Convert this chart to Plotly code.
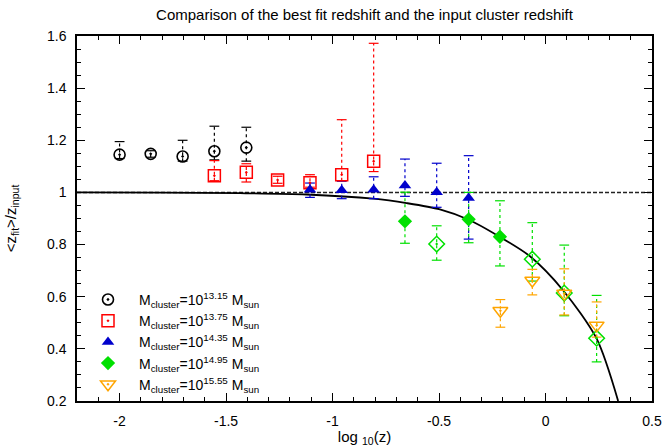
import plotly.graph_objects as go

# ---------------- data ----------------
# M = 10^13.15 (black circles)
s1_x = [-2.0, -1.854, -1.704, -1.555, -1.405]
s1_y = [1.145, 1.148, 1.138, 1.158, 1.172]
s1_hi = [1.195, 1.160, 1.200, 1.254, 1.250]
s1_lo = [1.130, 1.135, 1.120, 1.125, 1.120]

# M = 10^13.75 (red squares)
s2_x = [-1.555, -1.405, -1.258, -1.106, -0.957, -0.807]
s2_y = [1.064, 1.077, 1.048, 1.037, 1.068, 1.120]
s2_hi = [1.122, 1.110, 1.062, 1.068, 1.279, 1.572]
s2_lo = [1.045, 1.040, 1.035, 1.020, 1.045, 1.080]

# M = 10^14.35 (blue triangles)
s3_x = [-1.106, -0.957, -0.807, -0.660, -0.511, -0.361]
s3_y = [1.010, 1.008, 1.010, 1.027, 1.001, 0.979]
s3_hi = [1.036, 1.043, 1.060, 1.128, 1.112, 1.141]
s3_lo = [0.981, 0.976, 0.976, 0.985, 0.943, 0.821]

# M = 10^14.95 (green diamonds, filled)
s4_x = [-0.660, -0.361, -0.214]
s4_y = [0.889, 0.897, 0.830]
s4_hi = [1.001, 1.000, 0.968]
s4_lo = [0.805, 0.807, 0.718]

# M = 10^14.95 (green diamonds, open)
s4b_x = [-0.511, -0.062, 0.088, 0.240]
s4b_y = [0.802, 0.744, 0.614, 0.441]
s4b_hi = [0.872, 0.884, 0.798, 0.605]
s4b_lo = [0.740, 0.660, 0.527, 0.350]

# M = 10^15.55 (orange down triangles)
s5_x = [-0.212, -0.062, 0.088, 0.240]
s5_y = [0.546, 0.662, 0.612, 0.490]
s5_hi = [0.589, 0.705, 0.707, 0.580]
s5_lo = [0.483, 0.607, 0.530, 0.445]

# model curve
curve_x = [-2.2, -1.8, -1.435, -1.122, -0.809, -0.652, -0.496, -0.360, -0.214, -0.073, 0.083, 0.240, 0.341]
curve_y = [1.000, 0.999, 0.997, 0.992, 0.976, 0.959, 0.935, 0.895, 0.829, 0.755, 0.624, 0.439, 0.200]

REF_LEVEL = 1.0

x_ticks = [-2, -1.5, -1, -0.5, 0, 0.5]
x_ticktext = ["-2", "-1.5", "-1", "-0.5", "0", "0.5"]
y_ticks = [0.2, 0.4, 0.6, 0.8, 1.0, 1.2, 1.4, 1.6]
y_ticktext = ["0.2", "0.4", "0.6", "0.8", "1", "1.2", "1.4", "1.6"]

names = ["13.15", "13.75", "14.35", "14.95", "15.55"]

FONT = "Liberation Sans, Arial, sans-serif"

fig = go.Figure()


def add_errbars(xs, lo, hi, color):
    ex, ey = [], []
    for x, a, b in zip(xs, lo, hi):
        ex += [x, x, None]
        ey += [a, b, None]
    fig.add_trace(go.Scatter(x=ex, y=ey, mode="lines", showlegend=False,
                             hoverinfo="skip",
                             line=dict(color=color, width=1.2, dash="dot")))
    fig.add_trace(go.Scatter(x=list(xs) + list(xs), y=list(lo) + list(hi),
                             mode="markers", showlegend=False, hoverinfo="skip",
                             marker=dict(symbol="line-ew", size=7,
                                         line=dict(color=color, width=1.2))))


BLACK = "#000000"
RED = "#ff0000"
BLUE = "#0000cc"
GREEN = "#00e000"
ORANGE = "#ffa500"

# reference line and curve
fig.add_hline(y=REF_LEVEL, line=dict(color="#222222", width=1.5, dash="4px,2px"), layer="below")
fig.add_trace(go.Scatter(x=curve_x, y=curve_y, mode="lines", showlegend=False,
                         line=dict(color="black", width=1.8, shape="spline", smoothing=0.8)))

for xs, lo, hi, c in [(s1_x, s1_lo, s1_hi, BLACK), (s2_x, s2_lo, s2_hi, RED),
                      (s3_x, s3_lo, s3_hi, BLUE), (s4_x, s4_lo, s4_hi, GREEN),
                      (s4b_x, s4b_lo, s4b_hi, GREEN), (s5_x, s5_lo, s5_hi, ORANGE)]:
    add_errbars(xs, lo, hi, c)


def label(n):
    return "M<sub>cluster</sub>=10<sup>%s</sup> M<sub>sun</sub>" % n


fig.add_trace(go.Scatter(x=s1_x, y=s1_y, mode="markers", name=label(names[0]),
                         marker=dict(symbol="circle-open-dot", size=11, color=BLACK,
                                     line=dict(width=1.6, color=BLACK))))
fig.add_trace(go.Scatter(x=s2_x, y=s2_y, mode="markers", name=label(names[1]),
                         marker=dict(symbol="square-open-dot", size=12, color=RED,
                                     line=dict(width=1.5, color=RED))))
fig.add_trace(go.Scatter(x=s3_x, y=s3_y, mode="markers", name=label(names[2]),
                         marker=dict(symbol="triangle-up", size=11, color=BLUE,
                                     line=dict(width=0))))
fig.add_trace(go.Scatter(x=s4_x, y=s4_y, mode="markers", name=label(names[3]),
                         marker=dict(symbol="diamond", size=11, color=GREEN,
                                     line=dict(width=0))))
fig.add_trace(go.Scatter(x=s4b_x, y=s4b_y, mode="markers", showlegend=False,
                         marker=dict(symbol="diamond-open-dot", size=12, color=GREEN,
                                     line=dict(width=1.5, color=GREEN))))
fig.add_trace(go.Scatter(x=s5_x, y=s5_y, mode="markers", name=label(names[4]),
                         marker=dict(symbol="triangle-down-open-dot", size=13, color=ORANGE,
                                     line=dict(width=1.5, color=ORANGE))))

axis_common = dict(showgrid=False, zeroline=False, showline=True, linecolor="black",
                   linewidth=1.5, mirror="allticks", ticks="inside", ticklen=8,
                   tickwidth=1, tickcolor="black", automargin=False,
                   tickfont=dict(family=FONT, size=14, color="black"))

fig.update_layout(
    width=662, height=447,
    margin=dict(l=77, r=10, t=36, b=46),
    paper_bgcolor="white", plot_bgcolor="white",
    title=dict(text="Comparison of the best fit redshift and the input cluster redshift",
               x=0.5, xanchor="center", y=0.968, yanchor="middle",
               xref="paper",
               font=dict(family=FONT, size=15, color="black")),
    xaxis=dict(range=[-2.2, 0.5], tickvals=x_ticks, ticktext=x_ticktext,
               ticklabelstandoff=6,
               title=dict(text="log <sub>10</sub>(z)", standoff=4,
                          font=dict(family=FONT, size=15, color="black")),
               minor=dict(dtick=0.1, ticks="inside", ticklen=4, tickcolor="black"),
               **axis_common),
    yaxis=dict(range=[0.2, 1.6], tickvals=y_ticks, ticktext=y_ticktext,
               ticklabelstandoff=6,
               title=dict(text="&lt;z<sub>fit</sub>&gt;/z<sub>input</sub>", standoff=27,
                          font=dict(family=FONT, size=15, color="black")),
               minor=dict(dtick=0.05, ticks="inside", ticklen=4, tickcolor="black"),
               **axis_common),
    legend=dict(x=0.0, y=0.003, xanchor="left", yanchor="bottom",
                bgcolor="rgba(0,0,0,0)", borderwidth=0,
                font=dict(family=FONT, size=14, color="black"),
                tracegroupgap=0, itemwidth=52),
    showlegend=True,
)

fig.write_html("out.html")
